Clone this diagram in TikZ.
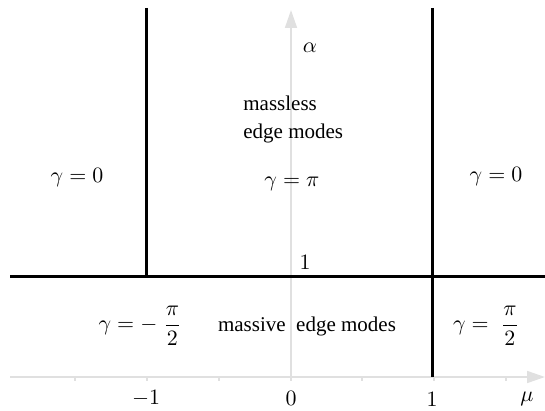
\documentclass[tikz,border=0pt]{standalone}
\usepackage{fontspec}
\setmainfont{Liberation Serif}
\usetikzlibrary{arrows.meta}
\definecolor{axisgray}{RGB}{224,224,224}
\tikzset{
  axis/.style={draw=axisgray, line width=0.8pt, -{Triangle[length=9pt,width=6pt]}},
  tick/.style={draw=axisgray, line width=0.6pt},
  border/.style={draw=black, line width=1.5pt},
  lab/.style={inner sep=0pt, font=\fontsize{10.5}{12}\selectfont},
}
\begin{document}
\begin{tikzpicture}[x=0.5pt,y=-0.5pt]
\useasboundingbox (0,0) rectangle (545,411);
% axes
\coordinate (xs) at (10,377);
\coordinate (xe) at (545,377);
\coordinate (ys) at (291,377);
\coordinate (ye) at (291,10);
\draw[axis] (xs) -- (xe);
\draw[axis] (ys) -- (ye);
\foreach \t in {75,147,219,291,362,434,506} {
  \coordinate (t\t a) at (\t,377);
  \coordinate (t\t b) at (\t,381);
  \draw[tick] (t\t a) -- (t\t b);
}
% phase boundaries
\coordinate (h1) at (10,276);
\coordinate (h2) at (545,276);
\coordinate (vl1) at (146,8);
\coordinate (vl2) at (146,276);
\coordinate (vr1) at (432,8);
\coordinate (vr2) at (432,377);
\draw[border] (h1) -- (h2);
\draw[border] (vl1) -- (vl2);
\draw[border] (vr1) -- (vr2);
% labels
\node[lab] (alpha) at (310,48) {$\alpha$};
\node[lab, anchor=west] (ml1) at (243,103) {massless};
\node[lab, anchor=west] (ml2) at (243,133) {edge modes};
\node[lab] (gpi) at (292,184) {$\gamma = \pi$};
\node[lab] (g0l) at (77,178) {$\gamma = 0$};
\node[lab] (g0r) at (496,177) {$\gamma = 0$};
\node[lab] (one) at (305,262) {$1$};
\node[lab] (gmh) at (140,326) {$\gamma = -\;\displaystyle\frac{\pi}{2}$};
\node[lab] (mem) at (307,326) {massive\ \ edge modes};
\node[lab] (gph) at (486,326) {$\gamma = \;\displaystyle\frac{\pi}{2}$};
\node[lab] (xm1) at (146,398) {$-1$};
\node[lab] (x0) at (291,398) {$0$};
\node[lab] (x1) at (432,399) {$1$};
\node[lab] (mu) at (527,399) {$\mu$};
\end{tikzpicture}
\end{document}
